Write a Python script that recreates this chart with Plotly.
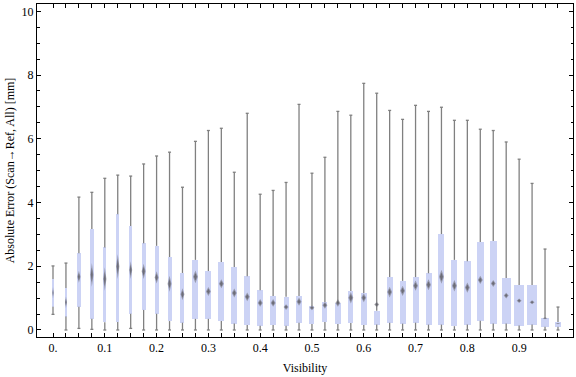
import plotly.graph_objects as go

# ---- data ----
visibility = [0.000, 0.025, 0.050, 0.075, 0.100, 0.125, 0.150, 0.175, 0.200, 0.225,
              0.250, 0.275, 0.300, 0.325, 0.350, 0.375, 0.400, 0.425, 0.450, 0.475,
              0.500, 0.525, 0.550, 0.575, 0.600, 0.625, 0.650, 0.675, 0.700, 0.725,
              0.750, 0.775, 0.800, 0.825, 0.850, 0.875, 0.900, 0.925, 0.950, 0.975]

whisker_max = [2.01, 2.10, 4.17, 4.32, 4.76, 4.86, 4.83, 5.21, 5.46, 5.58,
               4.48, 5.92, 6.26, 6.33, 4.95, 6.80, 4.26, 4.38, 4.63, 7.08,
               4.92, 5.42, 6.86, 6.74, 7.74, 7.43, 6.89, 6.61, 7.05, 6.86,
               6.99, 6.58, 6.58, 6.30, 6.26, 5.90, 5.36, 4.60, 2.54, 0.72]

q3 = [1.60, 1.32, 2.41, 3.17, 2.59, 3.63, 3.26, 2.72, 2.64, 2.29,
      1.79, 2.20, 1.85, 2.13, 1.98, 1.69, 1.25, 1.07, 1.04, 1.07,
      0.75, 0.88, 0.85, 1.22, 1.16, 0.60, 1.66, 1.54, 1.66, 1.78,
      3.01, 2.20, 2.16, 2.76, 2.79, 1.63, 1.41, 1.41, 0.38, 0.25]

median = [1.17, 0.87, 1.67, 1.73, 1.60, 1.99, 1.88, 1.84, 1.65, 1.45,
          1.12, 1.67, 1.21, 1.45, 1.16, 1.04, 0.85, 0.85, 0.72, 0.89,
          0.70, 0.78, 0.85, 1.01, 1.01, 0.80, 1.19, 1.23, 1.39, 1.42,
          1.67, 1.39, 1.33, 1.57, 1.46, 1.08, 0.92, 0.87, 0.37, 0.20]

q1 = [0.73, 0.42, 0.73, 0.35, 0.24, 0.25, 0.51, 0.63, 0.51, 0.28,
      0.23, 0.35, 0.35, 0.28, 0.20, 0.16, 0.13, 0.16, 0.13, 0.23,
      0.19, 0.25, 0.19, 0.22, 0.16, 0.17, 0.23, 0.20, 0.23, 0.17,
      0.17, 0.12, 0.17, 0.29, 0.20, 0.20, 0.14, 0.17, 0.10, 0.10]

whisker_min = [0.49, 0.00, 0.05, 0.02, 0.00, 0.00, 0.05, 0.00, 0.00, 0.00,
               0.00, 0.00, 0.00, 0.00, 0.00, 0.00, 0.00, 0.00, 0.00, 0.00,
               0.00, 0.00, 0.00, 0.00, 0.00, 0.00, 0.00, 0.00, 0.00, 0.00,
               0.00, 0.00, 0.00, 0.00, 0.00, 0.00, 0.00, 0.00, 0.00, 0.00]

# median notch half-heights (mm)
notch = [0.18, 0.18, 0.19, 0.37, 0.37, 0.39, 0.28, 0.24, 0.19, 0.25,
         0.19, 0.20, 0.14, 0.14, 0.14, 0.14, 0.12, 0.12, 0.09, 0.13,
         0.08, 0.11, 0.12, 0.18, 0.14, 0.09, 0.17, 0.16, 0.16, 0.17,
         0.22, 0.18, 0.16, 0.13, 0.11, 0.09, 0.07, 0.06, 0.03, 0.02]

# relative box widths (as drawn in the reference, varying with bin size)
box_width = [1.3, 2.0, 3.3, 3.3, 3.3, 3.3, 3.0, 4.0, 4.0, 4.0,
             4.0, 6.0, 6.0, 6.0, 6.0, 6.0, 6.0, 6.3, 5.0, 5.3,
             5.0, 5.0, 5.3, 5.0, 6.0, 6.0, 5.7, 6.0, 6.0, 6.0,
             6.0, 6.0, 7.0, 7.0, 7.0, 9.0, 10.0, 10.7, 8.3, 6.0]

tick_labels = {0.0: "0.", 0.1: "0.1", 0.2: "0.2", 0.3: "0.3", 0.4: "0.4",
               0.5: "0.5", 0.6: "0.6", 0.7: "0.7", 0.8: "0.8", 0.9: "0.9"}

# ---- styling constants ----
STEP = 0.025            # data units between boxes
PX = STEP / 12.94       # data units per pixel along x
CAP = 1.5 * PX          # whisker cap half-width
FONT = "Liberation Serif"
WHISKER = "rgb(128,128,128)"
BOXFILL = "rgb(204,211,245)"

n = len(visibility)
widths = [w * PX for w in box_width]

# whiskers (lines + caps)
wx, wy = [], []
for i in range(n):
    x = visibility[i]
    wx += [x - CAP, x + CAP, None, x, x, None, x - CAP, x + CAP, None, x, x, None]
    wy += [whisker_max[i], whisker_max[i], None, whisker_max[i], q3[i], None,
           whisker_min[i], whisker_min[i], None, q1[i], whisker_min[i], None]

# median diamonds
def diamonds(scale_w, scale_h):
    dx, dy = [], []
    for i in range(n):
        x = visibility[i]
        hw = min(0.5 * widths[i], 2.5 * PX) * scale_w
        hh = notch[i] * scale_h
        m = median[i]
        dx += [x - hw, x, x + hw, x, x - hw, None]
        dy += [m, m + hh, m, m - hh, m, None]
    return dx, dy

ox, oy = diamonds(1.0, 1.0)
ix, iy = diamonds(0.6, 0.6)

fig = go.Figure()
fig.add_trace(go.Scatter(x=wx, y=wy, mode="lines",
                         line=dict(color=WHISKER, width=1.3),
                         hoverinfo="skip", showlegend=False))
fig.add_trace(go.Bar(x=visibility, y=[a - b for a, b in zip(q3, q1)], base=q1,
                     width=widths, marker=dict(color=BOXFILL, line=dict(width=0)),
                     showlegend=False))
fig.add_trace(go.Scatter(x=ox, y=oy, mode="lines", fill="toself",
                         fillcolor="rgba(120,120,130,0.6)", line=dict(width=0),
                         hoverinfo="skip", showlegend=False))
fig.add_trace(go.Scatter(x=ix, y=iy, mode="lines", fill="toself",
                         fillcolor="rgba(85,85,90,0.65)", line=dict(width=0),
                         hoverinfo="skip", showlegend=False))

ticktext = [tick_labels.get(round(v, 3), "") for v in visibility]

fig.update_layout(
    width=576, height=377,
    margin=dict(l=37, r=3, t=4, b=40),
    paper_bgcolor="white", plot_bgcolor="white",
    font=dict(family=FONT, size=12, color="black"),
    bargap=0,
    xaxis=dict(
        range=[-1.236 * STEP, 0.975 + 1.16 * STEP],
        tickmode="array", tickvals=visibility, ticktext=ticktext,
        ticks="inside", ticklen=4, tickwidth=1, tickcolor="black",
        showline=True, linecolor="black", linewidth=1, mirror="allticks",
        showgrid=False, zeroline=False,
        tickfont=dict(family=FONT, size=12, color="black"),
        title=dict(text="Visibility", font=dict(family=FONT, size=12, color="black"),
                   standoff=9),
    ),
    yaxis=dict(
        range=[-0.22, 10.23],
        tickmode="linear", tick0=0, dtick=2,
        ticks="inside", ticklen=4, tickwidth=1, tickcolor="black",
        minor=dict(tickmode="linear", tick0=0, dtick=0.5, ticks="inside",
                   ticklen=2.5, tickwidth=1, tickcolor="black", showgrid=False),
        showline=True, linecolor="black", linewidth=1, mirror="allticks",
        showgrid=False, zeroline=False,
        tickfont=dict(family=FONT, size=12, color="black"),
        title=dict(text="Absolute Error (Scan\u2192Ref, All) [mm]",
                   font=dict(family=FONT, size=12, color="black"), standoff=4),
    ),
)

fig.write_html("out.html", config={"displayModeBar": False},
               post_script="document.body.style.margin='0';document.body.style.padding='0';")
